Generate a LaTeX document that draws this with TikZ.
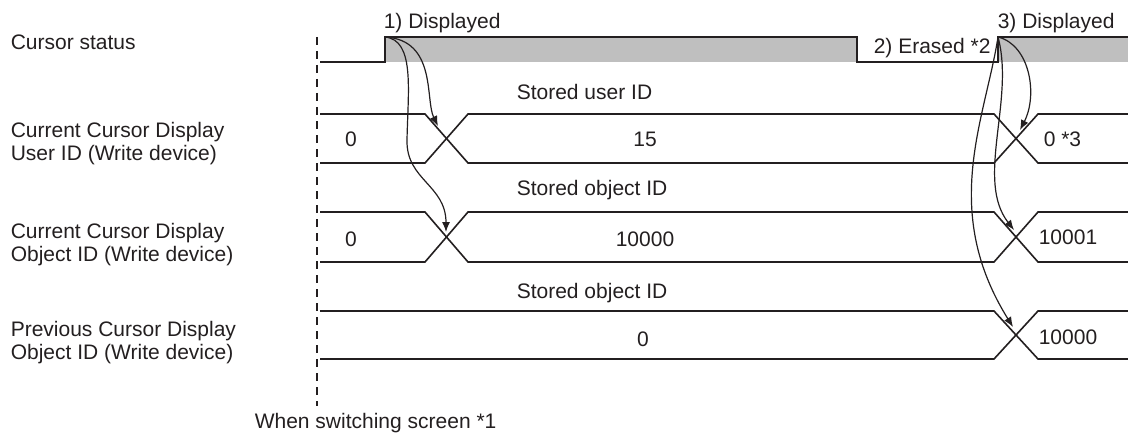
\documentclass[tikz,border=0pt]{standalone}
\usepackage{fontspec}
\setmainfont{Liberation Sans}
\usetikzlibrary{arrows.meta}
\definecolor{cursorgray}{RGB}{191,191,191}
\definecolor{ink}{RGB}{35,31,32}

\begin{document}
\begin{tikzpicture}[x=0.5pt, y=-0.5pt, line width=0.8pt, color=ink,
		every node/.style={font=\fontsize{10.5}{11.5}\selectfont, inner sep=0pt},
		cause/.style={-{Latex[length=5pt,width=4pt]}, line width=0.6pt}]
		\useasboundingbox (0,0) rectangle (1128,433);
		% signal names
		\node[anchor=base west] (cur) at (10,50) {Cursor status};
		\node[anchor=west, align=left] (uid) at (10,143.5) {Current Cursor Display\\User ID (Write device)};
		\node[anchor=west, align=left] (oid) at (10,244.5) {Current Cursor Display\\Object ID (Write device)};
		\node[anchor=west, align=left] (pid) at (10,343) {Previous Cursor Display\\Object ID (Write device)};
		% screen switch
		\coordinate (swtop) at (317,37);
		\coordinate (swbot) at (317,406);
		\draw[dash pattern=on 4pt off 3pt, line width=1pt] (swtop) -- (swbot);
		\node[anchor=base west] (sw) at (254,428) {When switching screen *1};
		% cursor status
		\fill[cursorgray] (385,37) rectangle (857,62);
		\fill[cursorgray] (998,37) rectangle (1128,62);
		\draw (320,62) -- (385,62) -- (385,37) -- (857,37) -- (857,62) -- (998,62) -- (998,37) -- (1128,37);
		\coordinate (on1) at (385,37);
		\coordinate (on3) at (998,37);
		\node[anchor=base west] (disp1) at (383,29) {1) Displayed};
		\node[anchor=base west] (erase) at (873,54) {2) Erased *2};
		\node[anchor=base west] (disp3) at (997,29) {3) Displayed};
		% device values
		\foreach \t/\b in {114/163, 212/262} {
			\draw (320,\t) -- (425,\t) -- (468,\b) -- (994,\b) -- (1038,\t) -- (1128,\t);
			\draw (320,\b) -- (425,\b) -- (468,\t) -- (994,\t) -- (1038,\b) -- (1128,\b);
		}
		\draw (320,311) -- (994,311) -- (1038,359) -- (1128,359);
		\draw (320,359) -- (994,359) -- (1038,311) -- (1128,311);
		\node[anchor=base west] (slu) at (516,99) {Stored user ID};
		\node[anchor=base west] (slo) at (516,195) {Stored object ID};
		\node[anchor=base west] (slp) at (516,298) {Stored object ID};
		\node[anchor=base] (u0) at (351,147) {0};
		\node[anchor=base] (u15) at (645,147) {15};
		\node[anchor=base west] (u03) at (1043,146) {0 *3};
		\node[anchor=base] (o0) at (351,246) {0};
		\node[anchor=base] (o10000) at (645,246) {10000};
		\node[anchor=base west] (o10001) at (1038,244) {10001};
		\node[anchor=base] (p0) at (643,346) {0};
		\node[anchor=base west] (p10000) at (1038,344) {10000};
		% what each change stores
		\coordinate (u1) at (438,126);
		\coordinate (o1) at (446,232);
		\coordinate (u2) at (1020,130);
		\coordinate (o2) at (1014,230);
		\coordinate (p2) at (1013,327);
		\draw[cause] (on1) .. controls (437,40) and (425,100) .. (u1);
		\draw[cause] (on1) .. controls (415,40) and (408,90) .. (407,140) .. controls (406,180) and (446,185) .. (o1);
		\draw[cause] (on3) .. controls (1030,45) and (1038,95) .. (u2);
		\draw[cause] (on3) .. controls (1015,100) and (975,180) .. (o2);
		\draw[cause] (on3) .. controls (985,120) and (940,210) .. (p2);
	\end{tikzpicture}
\end{document}
